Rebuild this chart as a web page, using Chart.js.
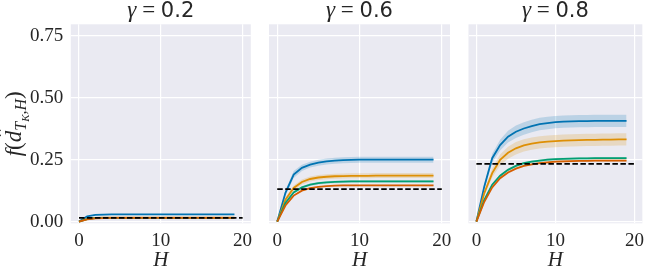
<!DOCTYPE html>
<html>
<head>
<meta charset="utf-8">
<script src="https://cdn.jsdelivr.net/npm/chart.js@4.4.1/dist/chart.umd.min.js"></script>
<style>
  html, body { margin: 0; padding: 0; background: #fff; }
  #wrap { position: relative; width: 650px; height: 273px; overflow: hidden; }
  canvas { position: absolute; top: 0; }
</style>
</head>
<body>
<div id="wrap">
  <canvas id="g02" width="260" height="273" style="left:0px"></canvas>
  <canvas id="g06" width="200" height="273" style="left:260px"></canvas>
  <canvas id="g08" width="190" height="273" style="left:460px"></canvas>
</div>
<script>
// horizon values and tick marks
const horizon = [0, 1, 2, 3, 4, 5, 6, 7, 8, 9, 10, 11, 12, 13, 14, 15, 16, 17, 18, 19];
const xTicks = [0, 10, 20];
const yTicks = [0, 0.25, 0.5, 0.75];
const dashStart = 0;
const dashEnd = 20;

// gamma = 0.2
const blue02   = [0, 0.021, 0.027, 0.028, 0.029, 0.029, 0.029, 0.029, 0.029, 0.029, 0.029, 0.029, 0.029, 0.029, 0.029, 0.029, 0.029, 0.029, 0.029, 0.029];
const orange02 = [0, 0.011, 0.015, 0.016, 0.016, 0.016, 0.016, 0.016, 0.016, 0.016, 0.016, 0.016, 0.016, 0.016, 0.016, 0.016, 0.016, 0.016, 0.016, 0.016];
const green02  = [0, 0.010, 0.014, 0.015, 0.015, 0.015, 0.015, 0.015, 0.015, 0.015, 0.015, 0.015, 0.015, 0.015, 0.015, 0.015, 0.015, 0.015, 0.015, 0.015];
const red02    = [0, 0.009, 0.013, 0.014, 0.015, 0.015, 0.015, 0.015, 0.015, 0.015, 0.015, 0.015, 0.015, 0.015, 0.015, 0.015, 0.015, 0.015, 0.015, 0.015];
const spread02 = [0, 0.001, 0.002, 0.002, 0.002, 0.002, 0.002, 0.002, 0.002, 0.002, 0.002, 0.002, 0.002, 0.002, 0.002, 0.002, 0.002, 0.002, 0.002, 0.002];
const level02 = 0.015;

// gamma = 0.6
const blue06   = [0, 0.116, 0.190, 0.217, 0.230, 0.238, 0.243, 0.246, 0.248, 0.249, 0.250, 0.250, 0.250, 0.250, 0.250, 0.250, 0.250, 0.250, 0.250, 0.250];
const orange06 = [0, 0.088, 0.136, 0.160, 0.172, 0.178, 0.181, 0.183, 0.184, 0.185, 0.185, 0.185, 0.186, 0.186, 0.186, 0.186, 0.186, 0.186, 0.186, 0.186];
const green06  = [0, 0.075, 0.118, 0.138, 0.149, 0.155, 0.158, 0.160, 0.161, 0.162, 0.162, 0.162, 0.162, 0.162, 0.162, 0.162, 0.162, 0.162, 0.162, 0.162];
const red06    = [0, 0.065, 0.105, 0.125, 0.135, 0.140, 0.143, 0.145, 0.146, 0.146, 0.146, 0.146, 0.146, 0.146, 0.146, 0.146, 0.146, 0.146, 0.146, 0.146];
const sBlue06   = [0, 0.012, 0.014, 0.013, 0.012, 0.012, 0.012, 0.012, 0.012, 0.012, 0.012, 0.012, 0.012, 0.012, 0.012, 0.012, 0.012, 0.012, 0.012, 0.012];
const sOrange06 = [0, 0.008, 0.010, 0.010, 0.010, 0.010, 0.010, 0.010, 0.010, 0.010, 0.010, 0.010, 0.010, 0.010, 0.010, 0.010, 0.010, 0.010, 0.010, 0.010];
const sGreen06  = [0, 0.004, 0.005, 0.005, 0.005, 0.005, 0.005, 0.005, 0.005, 0.005, 0.005, 0.005, 0.005, 0.005, 0.005, 0.005, 0.005, 0.005, 0.005, 0.005];
const sRed06    = [0, 0.003, 0.003, 0.003, 0.003, 0.003, 0.003, 0.003, 0.003, 0.003, 0.003, 0.003, 0.003, 0.003, 0.003, 0.003, 0.003, 0.003, 0.003, 0.003];
const level06 = 0.131;

// gamma = 0.8
const blue08   = [0, 0.142, 0.256, 0.309, 0.343, 0.363, 0.376, 0.386, 0.394, 0.398, 0.402, 0.404, 0.405, 0.406, 0.406, 0.407, 0.407, 0.407, 0.407, 0.407];
const orange08 = [0, 0.115, 0.196, 0.249, 0.278, 0.296, 0.308, 0.315, 0.320, 0.323, 0.325, 0.327, 0.328, 0.329, 0.330, 0.330, 0.331, 0.331, 0.332, 0.332];
const green08  = [0, 0.088, 0.149, 0.185, 0.209, 0.225, 0.236, 0.242, 0.246, 0.250, 0.252, 0.253, 0.254, 0.255, 0.255, 0.256, 0.256, 0.256, 0.256, 0.256];
const red08    = [0, 0.080, 0.138, 0.175, 0.198, 0.214, 0.225, 0.231, 0.236, 0.239, 0.242, 0.243, 0.244, 0.245, 0.245, 0.246, 0.246, 0.246, 0.246, 0.246];
const sBlue08   = [0, 0.010, 0.018, 0.022, 0.024, 0.025, 0.025, 0.025, 0.025, 0.025, 0.025, 0.025, 0.025, 0.025, 0.025, 0.025, 0.025, 0.025, 0.025, 0.025];
const sOrange08 = [0, 0.010, 0.018, 0.022, 0.024, 0.025, 0.025, 0.025, 0.025, 0.025, 0.025, 0.025, 0.025, 0.025, 0.025, 0.025, 0.025, 0.025, 0.025, 0.025];
const sGreen08  = [0, 0.004, 0.005, 0.005, 0.005, 0.005, 0.005, 0.005, 0.005, 0.005, 0.005, 0.005, 0.005, 0.005, 0.005, 0.005, 0.005, 0.005, 0.005, 0.005];
const sRed08    = [0, 0.003, 0.004, 0.004, 0.004, 0.004, 0.004, 0.004, 0.004, 0.004, 0.004, 0.004, 0.004, 0.004, 0.004, 0.004, 0.004, 0.004, 0.004, 0.004];
const level08 = 0.233;

// seaborn colorblind
const colors = ['#0173b2', '#de8f05', '#029e73', '#d55e00'];
const bandColors = ['rgba(1,115,178,0.2)', 'rgba(222,143,5,0.2)', 'rgba(2,158,115,0.2)', 'rgba(213,94,0,0.2)'];

const serif = "'Liberation Serif', serif";
const textColor = '#262626';

function drawRuns(ctx, runs, x, y) {
    // measure, then draw centred on x
    let total = 0;
    runs.forEach(r => { ctx.font = r.font; r.w = ctx.measureText(r.text).width; total += r.w; });
    let cx = x - total / 2;
    runs.forEach(r => {
        ctx.font = r.font;
        ctx.fillText(r.text, cx, y + (r.dy || 0));
        if (r.hat) {
            ctx.save();
            ctx.textAlign = 'center';
            ctx.fillText('\u02C6', cx + r.w / 2 + 2, y - 7);
            ctx.restore();
        }
        cx += r.w;
    });
}

const plotBackground = {
    id: 'plotBackground',
    beforeDraw(chart) {
        const { ctx, chartArea: a } = chart;
        ctx.save();
        ctx.fillStyle = '#eaeaf2';
        ctx.fillRect(a.left, a.top, a.right - a.left, a.bottom - a.top);
        ctx.restore();
    }
};

const panelText = {
    id: 'panelText',
    afterDraw(chart, args, opts) {
        const { ctx, chartArea: a } = chart;
        ctx.save();
        ctx.fillStyle = textColor;
        ctx.textBaseline = 'alphabetic';
        ctx.textAlign = 'left';
        drawRuns(ctx, [
            { text: '\u03B3', font: 'italic 23px ' + serif },
            { text: ' = ', font: '23px ' + serif },
            { text: opts.gamma, font: "21px 'DejaVu Sans', sans-serif" }
        ], (a.left + a.right) / 2, 17);
        if (opts.ylabel) {
            ctx.translate(21, (a.top + a.bottom) / 2);
            ctx.rotate(-Math.PI / 2);
            drawRuns(ctx, [
                { text: 'f', font: 'italic 23px ' + serif },
                { text: '(', font: '23px ' + serif },
                { text: 'd', font: 'italic 23px ' + serif, hat: true },
                { text: 'T', font: 'italic 16px ' + serif, dy: 5 },
                { text: 'K', font: 'italic 11px ' + serif, dy: 8 },
                { text: ',H', font: 'italic 16px ' + serif, dy: 5 },
                { text: ')', font: '23px ' + serif }
            ], 0, 0);
        }
        ctx.restore();
    }
};

function toPoints(values, offsets, sign) {
    return horizon.map((h, i) => ({ x: h, y: values[i] + (offsets ? sign * offsets[i] : 0) }));
}

function buildPanel(id, gamma, series, spreads, level, yWidth, rightPad, showY) {
    const datasets = [];
    series.forEach((vals, i) => {
        datasets.push({
            data: toPoints(vals, spreads[i], 1),
            borderWidth: 0, pointRadius: 0, fill: '+1',
            backgroundColor: bandColors[i], order: 20 + i
        });
        datasets.push({
            data: toPoints(vals, spreads[i], -1),
            borderWidth: 0, pointRadius: 0, fill: false, order: 20 + i
        });
    });
    series.forEach((vals, i) => {
        datasets.push({
            data: toPoints(vals),
            borderColor: colors[i], borderWidth: 1.8, pointRadius: 0,
            fill: false, tension: 0, order: 10 - i
        });
    });
    datasets.push({
        data: [{ x: dashStart, y: level }, { x: dashEnd, y: level }],
        borderColor: '#000', borderWidth: 1.8, borderDash: [5.5, 2.5],
        pointRadius: 0, fill: false, order: 0
    });

    return new Chart(document.getElementById(id), {
        type: 'line',
        data: { datasets: datasets },
        plugins: [plotBackground, panelText],
        options: {
            responsive: false,
            animation: false,
            events: [],
            layout: { padding: { top: 24.3, bottom: 0, left: 0, right: rightPad } },
            plugins: {
                legend: { display: false },
                tooltip: { enabled: false },
                panelText: { gamma: gamma, ylabel: showY }
            },
            scales: {
                x: {
                    type: 'linear', min: -1, max: 21,
                    afterBuildTicks: s => { s.ticks = xTicks.map(v => ({ value: v })); },
                    afterFit: s => { s.height = 49.7; },
                    grid: { color: '#fff', lineWidth: 1.2, drawTicks: false },
                    border: { display: false },
                    ticks: { padding: 6, color: textColor, font: { family: serif, size: 19 } },
                    title: {
                        display: true, text: 'H', color: textColor, padding: 0,
                        font: { family: serif, size: 21, style: 'italic' }
                    }
                },
                y: {
                    type: 'linear', min: -0.007, max: 0.797,
                    afterBuildTicks: s => { s.ticks = yTicks.map(v => ({ value: v })); },
                    afterFit: s => { s.width = yWidth; },
                    grid: { color: '#fff', lineWidth: 1.2, drawTicks: false },
                    border: { display: false },
                    ticks: {
                        display: showY, padding: 7.5, color: textColor,
                        font: { family: serif, size: 19 },
                        callback: v => v.toFixed(2)
                    }
                }
            }
        }
    });
}

buildPanel('g02', '0.2', [blue02, orange02, green02, red02], [spread02, spread02, spread02, spread02], level02, 70.8, 9.2, true);
buildPanel('g06', '0.6', [blue06, orange06, green06, red06], [sBlue06, sOrange06, sGreen06, sRed06], level06, 9, 10, false);
buildPanel('g08', '0.8', [blue08, orange08, green08, red08], [sBlue08, sOrange08, sGreen08, sRed08], level08, 8.5, 1, false);
</script>
</body>
</html>
